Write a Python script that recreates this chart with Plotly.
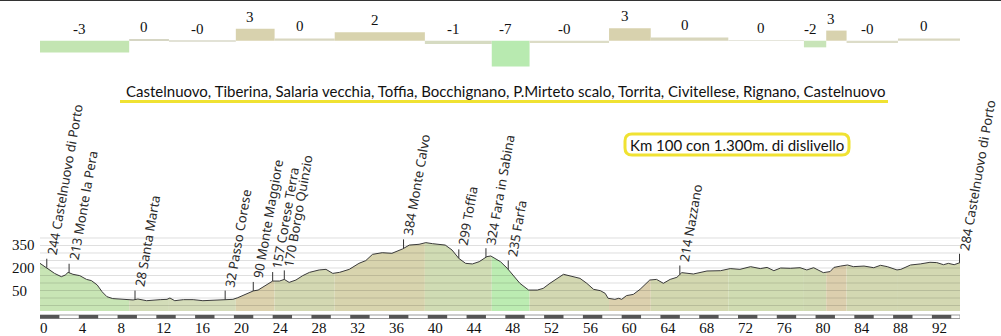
import numpy as np
import plotly.graph_objects as go

# ---------------- data ----------------
KM = [0, 0.5, 1.0, 1.5, 2.2, 2.6, 2.9, 3.4, 4.1, 4.8, 5.3, 5.9, 6.4, 6.9, 7.5, 8.6, 9.6, 10.1,
      11.0, 12.4, 13.1, 13.4, 13.9, 14.8, 15.8, 16.8, 17.8, 18.9, 19.9, 20.4, 21.3, 22.0, 22.5,
      23.4, 24.0, 24.7, 25.2, 25.7, 26.4, 27.1, 27.8, 28.8, 29.5, 30.2, 30.9, 31.9, 32.9, 33.6,
      34.3, 35.3, 36.3, 37.4, 38.1, 39.1, 39.8, 40.5, 41.8, 42.5, 43.2, 43.9, 44.6, 45.3, 46.1,
      46.5, 47.5, 48.2, 48.8, 49.5, 50.4, 51.3, 51.9, 52.6, 54.0, 54.7, 55.7, 56.4, 57.1, 57.8,
      58.3, 58.6, 59.3, 59.7, 60.0, 60.5, 61.2, 61.9, 62.9, 63.6, 64.3, 65.0, 65.7, 66.2, 67.4,
      68.8, 70.2, 71.2, 72.2, 73.3, 74.3, 75.0, 75.7, 76.4, 77.4, 78.4, 79.1, 79.8, 80.8, 81.5,
      81.9, 82.6, 83.3, 83.9, 85.0, 86.0, 86.7, 87.4, 88.4, 88.8, 89.8, 90.8, 91.8, 92.5, 93.2,
      93.7, 94.3, 94.9]
ELEV = [231, 209, 191, 164, 142, 153, 171, 158, 149, 124, 116, 87, 42, 9, -4, -11, -13, -7,
        -18, -11, -9, 0, -18, -11, -11, -18, -16, -11, -9, 2, 27, 47, 53,
        87, 113, 113, 124, 104, 120, 149, 171, 187, 191, 164, 171, 191, 231, 249,
        291, 302, 298, 327, 353, 358, 369, 362, 353, 320, 264, 231, 227, 242, 276,
        280, 242, 198, 153, 98, 53, 53, 64, 98, 158, 147, 131, 98, 58, 49,
        31, -2, -9, -2, -9, 16, 24, 58, 120, 124, 98, 124, 138, 169, 160,
        180, 182, 196, 191, 209, 196, 204, 182, 200, 198, 202, 187, 202, 169, 176,
        204, 213, 220, 209, 213, 202, 218, 209, 187, 191, 220, 227, 238, 236, 222,
        231, 222, 236]

SEG_EDGES = [0, 9.2, 13.3, 20.2, 24.2, 30.4, 39.7, 46.6, 50.5, 58.7, 63.0, 71.0, 78.8,
             81.1, 83.2, 88.5, 94.9]
SEG_GRADE = [-3.0, 0.45, -0.25, 3.1, 0.6, 2.2, -0.85, -6.6, -0.6, 3.2, 0.85, 0.1, -1.7,
             2.6, -0.6, 0.6]
SEG_LABELS = ["-3", "0", "-0", "3", "0", "2", "-1", "-7", "-0", "3", "0", "0", "-2", "3",
              "-0", "0"]

MARKER_KM = [0.7, 3.0, 9.8, 19.1, 22.0, 24.0, 25.2, 37.5, 43.2, 46.0, 48.3, 66.0, 94.85]
MARKER_LABELS = ["244 Castelnuovo di Porto", "213 Monte la Pera", "28 Santa Marta",
                 "32 Passo Corese", "90 Monte Maggiore", "157 Corese Terra",
                 "170 Borgo Quinzio", "384 Monte Calvo", "299 Toffia",
                 "324 Fara in Sabina", "235 Farfa", "214 Nazzano",
                 "284 Castelnuovo di Porto"]

X_TICKS = [0, 4, 8, 12, 16, 20, 24, 28, 32, 36, 40, 44, 48, 52, 56, 60, 64, 68, 72, 76, 80,
           84, 88, 92]
Y_LABELS = [50, 200, 350]
GRID_Y = [-50, 0, 50, 100, 150, 200, 250, 300, 350, 400]

TITLE = ("Castelnuovo, Tiberina, Salaria vecchia, Toffia, Bocchignano, P.Mirteto scalo, "
         "Torrita, Civitellese, Rignano, Castelnuovo")
NOTE = "Km 100 con 1.300m. di dislivello"

# ---------------- style ----------------
BAR_COLORS = ["#c3e5b2", "#d6d6c4", "#e2e2d6", "#d8d2ae", "#d9d7c0", "#d8d3ae", "#d6dbc2",
              "#b8eab0", "#dcdcc6", "#d8d2ae", "#d8d6bc", "#e6e6dc", "#c8e4b8", "#d8d2ae",
              "#dcdcc8", "#d9d7c0"]
FILL_COLORS = ["#c8e5b5", "#d3dcb8", "#d5dcba", "#dcd2ae", "#d3d8b2", "#d8d4ae", "#d0dcb4",
               "#bcecb2", "#d3d8b2", "#dcd0ae", "#d3d8b0", "#d0dcb2", "#d0dab2", "#dccfae",
               "#d3d8b2", "#d3d8b2"]

W, H = 1001, 336
ML, MR, MT, MB = 40, 41, 0, 25
PW = W - ML - MR
PH = H - MT - MB
Y_RANGE = [-86.7, 413.3]
Y_DOMAIN_TOP = 75 / PH
Y2_RANGE = [-15.2, 10.44]


def pxx(px):
    return (px - ML) / PW


def pxy(py):
    return (MT + PH - py) / PH


km = np.array(KM, dtype=float)
el = np.array(ELEV, dtype=float)

fig = go.Figure()

# coloured profile bands
for i in range(len(SEG_GRADE)):
    a, b = SEG_EDGES[i], SEG_EDGES[i + 1]
    m = (km > a) & (km < b)
    xs = [a] + list(km[m]) + [b]
    ys = [float(np.interp(a, km, el))] + list(el[m]) + [float(np.interp(b, km, el))]
    fig.add_trace(go.Scatter(
        x=[a] + xs + [b], y=[Y_RANGE[0]] + ys + [Y_RANGE[0]],
        fill="toself", fillcolor=FILL_COLORS[i], line=dict(width=0),
        mode="lines", hoverinfo="skip", showlegend=False))

# profile line
fig.add_trace(go.Scatter(x=KM, y=ELEV, mode="lines", line=dict(color="#3c3c3c", width=1),
                         hoverinfo="skip", showlegend=False))

# gradient bars
centers = [(SEG_EDGES[i] + SEG_EDGES[i + 1]) / 2 for i in range(len(SEG_GRADE))]
widths = [SEG_EDGES[i + 1] - SEG_EDGES[i] for i in range(len(SEG_GRADE))]
fig.add_trace(go.Bar(x=centers, y=SEG_GRADE, width=widths, marker=dict(color=BAR_COLORS,
                     line=dict(width=0)), yaxis="y2", hoverinfo="skip", showlegend=False))

shapes = []
annotations = []

# gridlines above fill
for g in GRID_Y:
    shapes.append(dict(type="line", xref="paper", yref="y", x0=0, x1=1, y0=g, y1=g,
                       line=dict(color="rgba(0,0,0,0.13)", width=1), layer="above"))

# marker ticks and labels
for k, lab in zip(MARKER_KM, MARKER_LABELS):
    e = float(np.interp(k, km, el))
    shapes.append(dict(type="line", xref="x", yref="y", x0=k, x1=k, ysizemode="pixel",
                       yanchor=e, y0=0, y1=9, line=dict(color="#333", width=1), layer="above"))
    annotations.append(dict(x=k, y=e, xref="x", yref="y", text=lab, showarrow=False,
                            textangle=-80, xanchor="left", yanchor="bottom", yshift=9,
                            xshift=-7, font=dict(family="Noto Sans", size=13, color="#2a2a2a")))

# gradient labels
for c, g, lab in zip(centers, SEG_GRADE, SEG_LABELS):
    annotations.append(dict(x=c, y=max(g, 0), xref="x", yref="y2", text=lab, showarrow=False,
                            xanchor="center", yanchor="middle", yshift=12, xshift=-5,
                            font=dict(family="Liberation Serif", size=15, color="#111")))

# y labels
for v in Y_LABELS:
    annotations.append(dict(x=pxx(10), y=v, xref="paper", yref="y", text=str(v),
                            showarrow=False, xanchor="left", yanchor="middle",
                            font=dict(family="Liberation Serif", size=15, color="#111")))

# title and underline
annotations.append(dict(x=pxx(505), y=pxy(91), xref="paper", yref="paper", text=TITLE,
                        showarrow=False, xanchor="center", yanchor="middle",
                        font=dict(family="Lato", size=15, color="#111")))
shapes.append(dict(type="line", xref="paper", yref="paper", x0=pxx(120), x1=pxx(888),
                   y0=pxy(101.5), y1=pxy(101.5), line=dict(color="#f0e232", width=3)))

# note box (rounded)
bx0, bx1, by0, by1, r = 625, 849, 134, 155, 7
P = lambda X, Y: f"{pxx(X):.5f},{pxy(Y):.5f}"
path = (f"M {P(bx0 + r, by0)} L {P(bx1 - r, by0)} Q {P(bx1, by0)} {P(bx1, by0 + r)} "
        f"L {P(bx1, by1 - r)} Q {P(bx1, by1)} {P(bx1 - r, by1)} L {P(bx0 + r, by1)} "
        f"Q {P(bx0, by1)} {P(bx0, by1 - r)} L {P(bx0, by0 + r)} Q {P(bx0, by0)} {P(bx0 + r, by0)} Z")
shapes.append(dict(type="path", xref="paper", yref="paper", path=path, fillcolor="white",
                   line=dict(color="#f0e232", width=3)))
annotations.append(dict(x=pxx(737), y=pxy(145), xref="paper", yref="paper", text=NOTE,
                        showarrow=False, xanchor="center", yanchor="middle",
                        font=dict(family="Lato", size=15, color="#111")))

# distance bar under axis
shapes.append(dict(type="rect", xref="x", yref="paper", x0=SEG_EDGES[0], x1=SEG_EDGES[-1],
                   y0=pxy(318.5), y1=pxy(315), fillcolor="white",
                   line=dict(color="#9a9a9a", width=1)))
for t in X_TICKS:
    shapes.append(dict(type="rect", xref="x", yref="paper", x0=t,
                       x1=min(t + 2, SEG_EDGES[-1]), y0=pxy(318.5), y1=pxy(315),
                       fillcolor="#555", line=dict(width=0)))

# top border line
shapes.append(dict(type="line", xref="paper", yref="paper", x0=pxx(0), x1=pxx(W),
                   y0=pxy(0.5), y1=pxy(0.5), line=dict(color="#333", width=1)))

fig.update_layout(
    width=W, height=H, margin=dict(l=ML, r=MR, t=MT, b=MB),
    paper_bgcolor="white", plot_bgcolor="white", showlegend=False,
    xaxis=dict(range=[SEG_EDGES[0], SEG_EDGES[-1]], tickvals=X_TICKS, showgrid=False,
               zeroline=False, showline=False, ticks="", ticklabelposition="outside right",
               ticklabelstandoff=6,
               tickfont=dict(family="Liberation Serif", size=15, color="#111"),
               anchor="y"),
    yaxis=dict(domain=[0, Y_DOMAIN_TOP], range=Y_RANGE, showgrid=False, zeroline=False,
               showticklabels=False, showline=False),
    yaxis2=dict(domain=[pxy(100), 1], range=Y2_RANGE, visible=False, anchor="x"),
    shapes=shapes, annotations=annotations,
)

fig.write_html("out.html")
